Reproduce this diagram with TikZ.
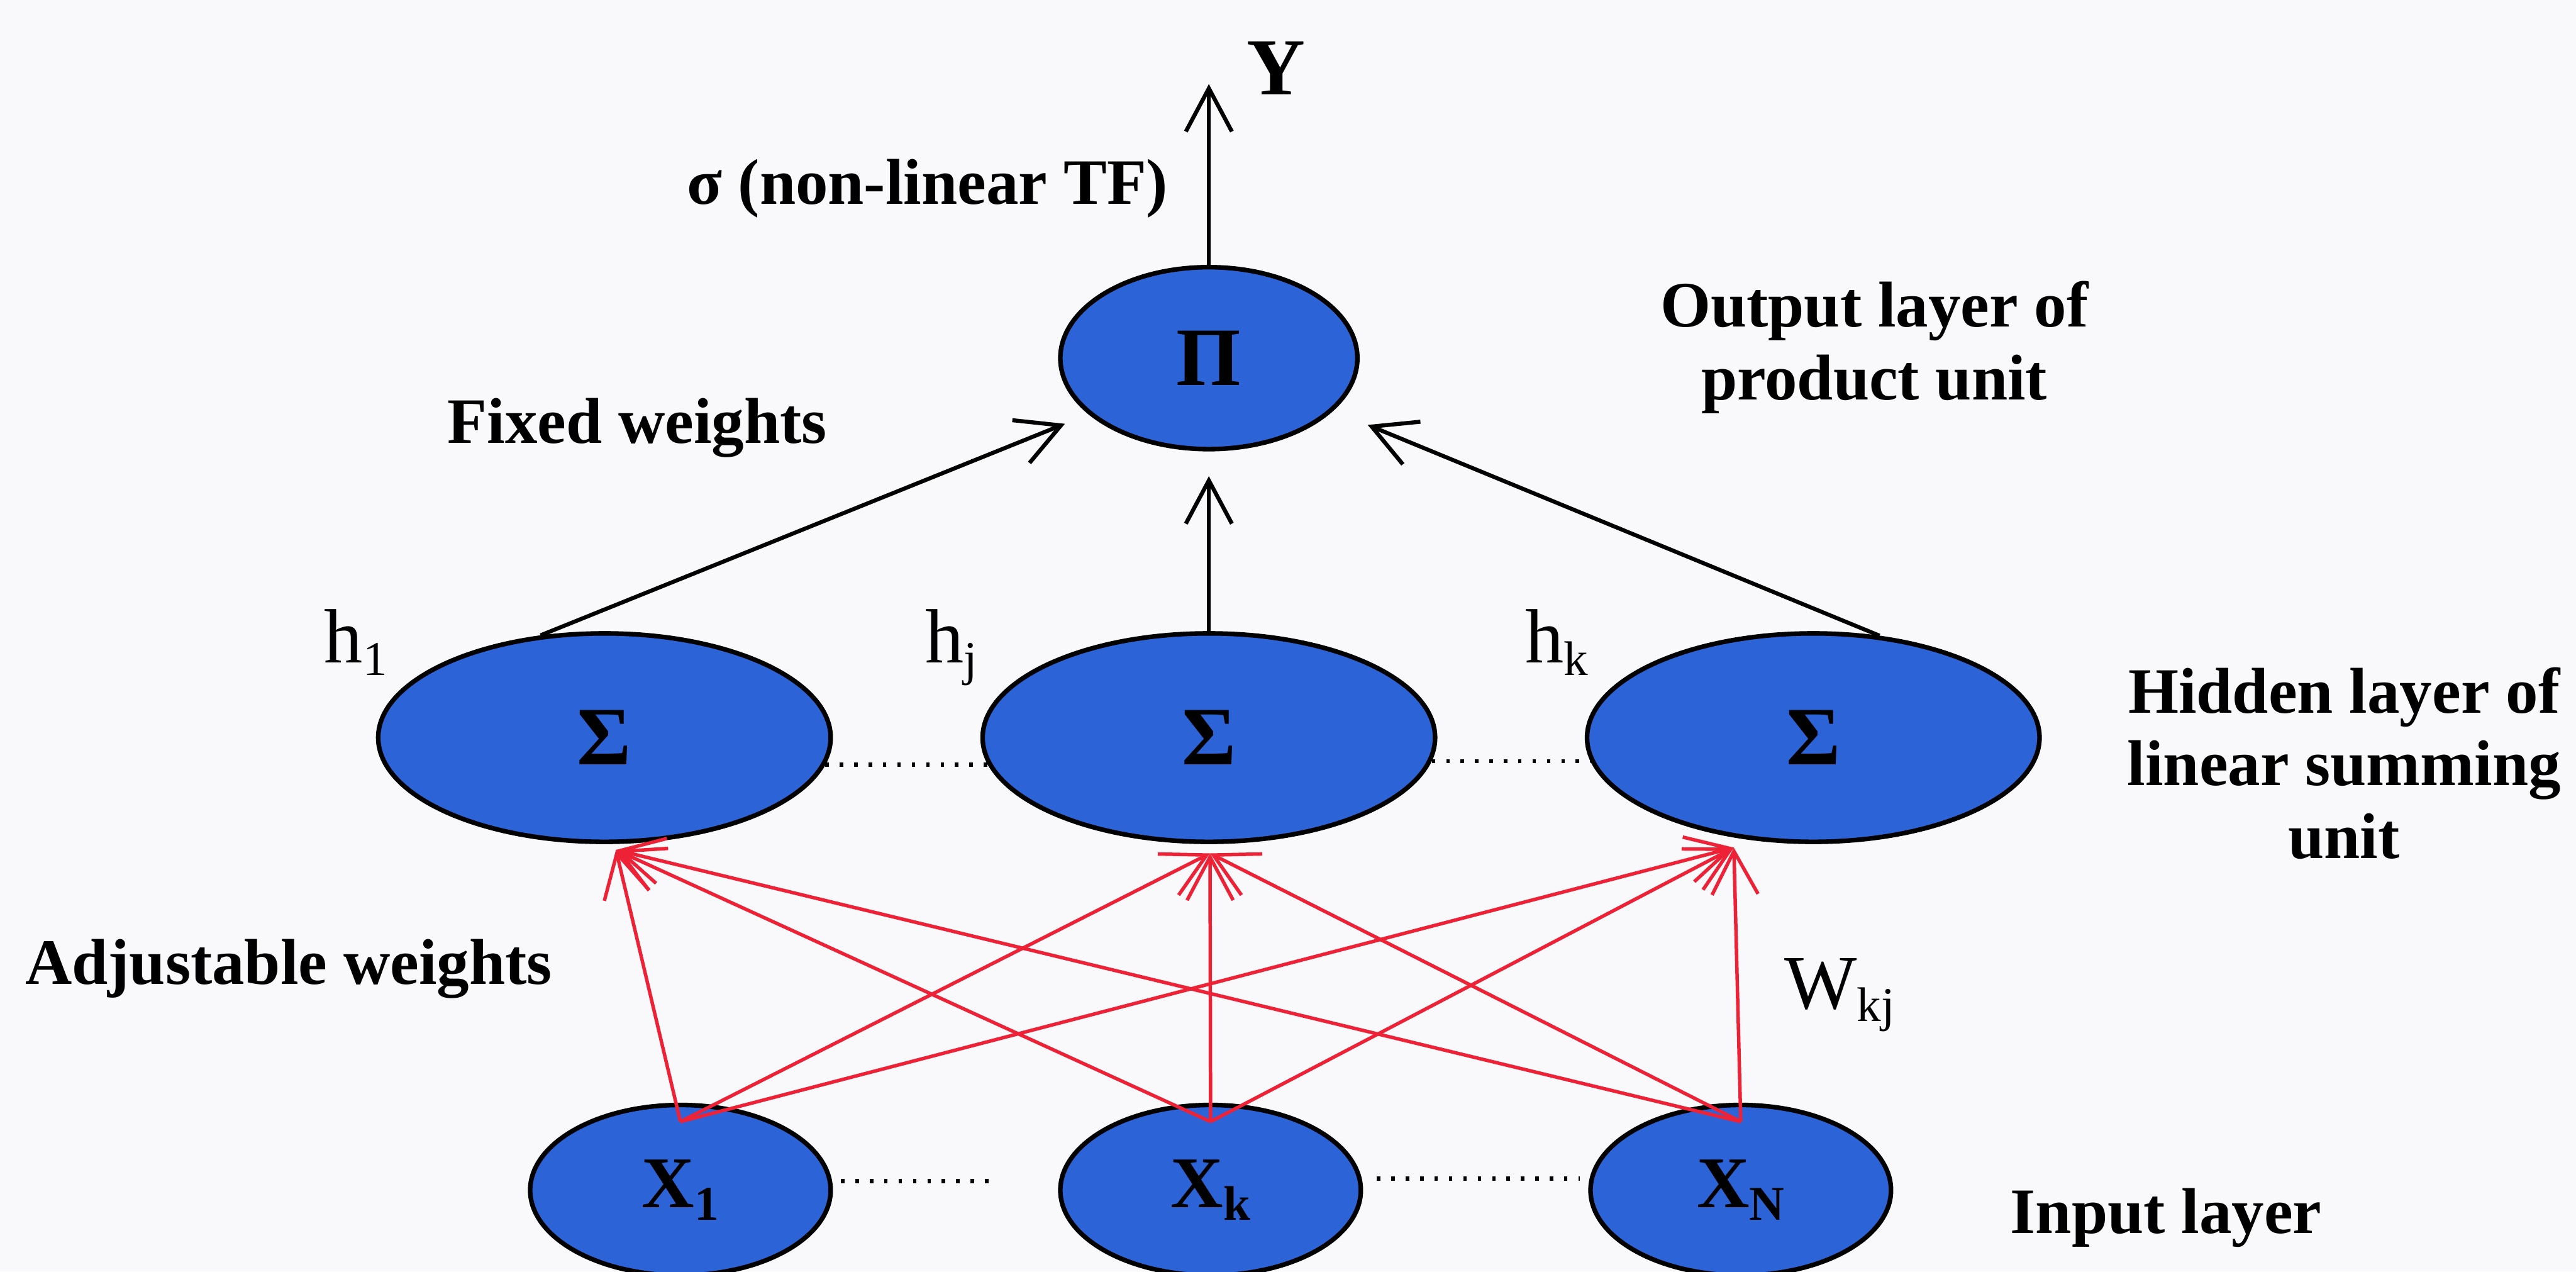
\documentclass[tikz,border=0pt]{standalone}
\usepackage{fontspec}
\setmainfont{Liberation Serif}
\usetikzlibrary{arrows.meta,positioning,calc,shapes.geometric}
\definecolor{UnitBlue}{HTML}{2C64D8}
\definecolor{WeightRed}{HTML}{EE2236}
\definecolor{PageTint}{HTML}{F9F9FB}
\newcommand{\lowsub}[1]{\raisebox{-0.22cm}{\fontsize{24}{24}\selectfont #1}}
\tikzset{
  unit/.style={ellipse,draw=black,line width=0.08cm,fill=UnitBlue,inner sep=0pt},
  outunit/.style={unit,minimum width=5.16cm,minimum height=3.16cm,font=\fontsize{41}{41}\selectfont\bfseries},
  sumunit/.style={unit,minimum width=7.86cm,minimum height=3.62cm,font=\fontsize{41}{41}\selectfont\bfseries},
  inunit/.style={unit,minimum width=5.22cm,minimum height=2.96cm,font=\fontsize{36}{36}\selectfont\bfseries},
  note/.style={font=\fontsize{32}{36}\selectfont\bfseries,inner sep=0pt,text=black},
  idx/.style={font=\fontsize{38}{38}\selectfont,inner sep=0pt,text=black},
  fixarr/.style={-{Straight Barb[length=7.5mm,width=8mm]},draw=black,line width=0.07cm},
  adjarr/.style={-{Straight Barb[length=7.5mm,width=8mm]},draw=WeightRed,line width=0.06cm},
  gap/.style={draw=black,line width=0.07cm,dash pattern=on 0.06cm off 0.19cm}
}
\begin{document}
\begin{tikzpicture}
  \fill[PageTint] (0,0) rectangle (44.75,-22.08);
  \useasboundingbox (0,0) rectangle (44.75,-22.08);
  % hidden, output and input units
  \node[sumunit] (h1) at (10.50,-12.81) {Σ};
  \node[sumunit,right=2.56cm of h1] (hj) {Σ};
  \node[sumunit,right=2.56cm of hj] (hk) {Σ};
  \node[outunit,above=3.12cm of hj] (pi) {Π};
  \node[inunit] (x1) at (11.82,-20.67) {X\lowsub{1}};
  \node[inunit,right=3.91cm of x1] (xk) {X\lowsub{k}};
  \node[inunit,right=3.91cm of xk] (xn) {X\lowsub{N}};
  % free ends of the connectors
  \coordinate (yout) at ($(pi.north)+(0,3.14)$);
  \foreach \s/\dx/\dy in {h1/0.2/-0.1,hj/0.02/-0.16,hk/-1.38/-0.06}
    \coordinate (\s-in) at ($(\s.south)+(\dx,\dy)$);
  \foreach \x in {x1,xk,xn}
    \coordinate (\x-out) at ($(\x.north)+(0,-0.33)$);
  % fixed weights
  \draw[fixarr] (pi.north) -- (yout);
  \draw[fixarr] (h1.122) -- ($(pi.center)+(-2.50,-1.14)$);
  \draw[fixarr] (hj.north) -- ($(pi.south)+(0,-0.43)$);
  \draw[fixarr] (hk.57) -- ($(pi.center)+(2.76,-1.16)$);
  % adjustable weights
  \foreach \x in {x1,xk,xn}
    \foreach \s in {h1,hj,hk}
      \draw[adjarr] (\x-out) -- (\s-in);
  % dotted gaps
  \draw[gap] (h1.-7) -- (hj.187);
  \draw[gap] (hj.-6) -- (hk.186);
  \draw[gap] ($(x1.east)+(0.14,0.16)$) -- ($(xk.west)+(-1.2,0.16)$);
  \draw[gap] ($(xk.east)+(0.24,0.2)$) -- ($(xn.west)+(-0.15,0.2)$);
  % labels
  \node[note,font=\fontsize{40}{40}\selectfont\bfseries] (ylbl) at (22.17,-1.18) {Y};
  \node[note,anchor=base] (tflbl) at (16.11,-3.54) {σ (non-linear TF)};
  \node[note,anchor=base] (fixlbl) at (11.07,-7.70) {Fixed weights};
  \node[note,anchor=north,align=center] (outlbl) at (32.56,-4.88) {Output layer of\\product unit};
  \node[note,anchor=north,align=center] (hidlbl) at (40.72,-11.58) {Hidden layer of\\linear summing\\unit};
  \node[note,anchor=base west] (adjlbl) at (0.43,-17.09) {Adjustable weights};
  \node[note,anchor=base west] (inlbl) at (34.92,-21.42) {Input layer};
  \node[idx,anchor=base west] (h1lbl) at (5.63,-11.51) {h\lowsub{1}};
  \node[idx,anchor=base west] (hjlbl) at (16.07,-11.51) {h\lowsub{j}};
  \node[idx,anchor=base west] (hklbl) at (26.49,-11.51) {h\lowsub{k}};
  \node[idx,anchor=base west] (wlbl) at (30.99,-17.52) {W\lowsub{kj}};
\end{tikzpicture}
\end{document}
